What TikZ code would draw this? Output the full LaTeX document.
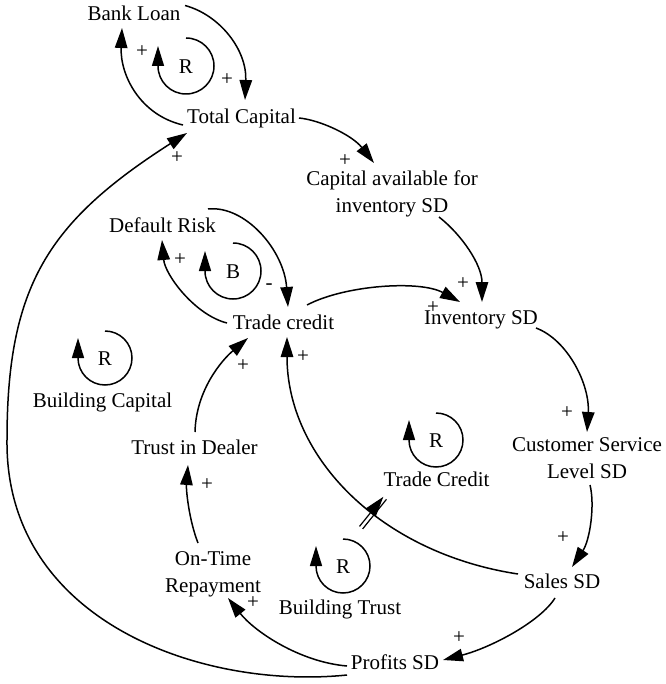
\documentclass[tikz,border=0pt]{standalone}
\usepackage{fontspec}
\setmainfont{Liberation Serif}
\usetikzlibrary{arrows.meta,decorations.markings}
\begin{document}
\begin{tikzpicture}[x=1pt,y=-1pt,
  lbl/.style={font=\fontsize{21}{27}\selectfont, inner sep=0pt, text height=14.5pt, text depth=0pt},
  lbl2/.style={font=\fontsize{21}{27}\selectfont, inner sep=0pt, align=center},
  sgn/.style={font=\fontsize{21}{24}\selectfont, inner sep=0pt},
  lp/.style={font=\fontsize{21}{27}\selectfont, inner sep=0pt, text height=14.5pt, text depth=0pt},
  arr/.style={line width=1.5pt, -{Triangle[length=20pt,width=12.5pt]}},
  loopline/.style={line width=1.5pt, -{Triangle[length=20pt,width=12pt]}},
]
\path[use as bounding box] (0,0) rectangle (665,684);

% variables
\node[lbl] (bank) at (134,13.5) {Bank Loan};
\node[lbl] (tcap) at (241.5,116) {Total Capital};
\node[lbl2] (cap) at (392,193.5) {Capital available for\\inventory SD};
\node[lbl] (dr) at (162.5,225) {Default Risk};
\node[lbl] (tc) at (283.5,322) {Trade credit};
\node[lbl] (inv) at (481,317) {Inventory SD};
\node[lbl2] (csl) at (587,458.4) {Customer Service\\Level SD};
\node[lbl] (sales) at (562,581.5) {Sales SD};
\node[lbl] (prof) at (395,662.5) {Profits SD};
\node[lbl2] (ot) at (213,574.6) {On-Time\\Repayment};
\node[lbl] (trust) at (194.5,447.5) {Trust in Dealer};

% loop names
\node[lbl] (nbc) at (102.5,400.5) {Building Capital};
\node[lbl] (ntc) at (436.5,479.5) {Trade Credit};
\node[lbl] (nbt) at (340,607.5) {Building Trust};

% loop markers
\node[lp] (l1) at (186,66) {R};
\node[lp] (l2) at (233,271) {B};
\node[lp] (l3) at (105,358) {R};
\node[lp] (l4) at (436,440) {R};
\node[lp] (l5) at (343,566) {R};
\foreach \n/\r in {l1/28,l2/28,l3/27,l4/27,l5/27}
  \draw[loopline] ([shift={(0,-\r)}]\n.center) arc[start angle=-90,end angle=180,radius=\r] -- ++(0,-20);

% connectors
\draw[arr] ([shift={(51,-8)}]bank.center) .. controls (220,15) and (247,50) .. ([shift={(3.5,-16)}]tcap.center);
\draw[arr] ([shift={(-58.5,9)}]tcap.center) .. controls (140,115) and (120,75) .. ([shift={(-12,14.5)}]bank.center);
\draw[arr] ([shift={(57.5,2)}]tcap.center) .. controls (320,120) and (352,135) .. ([shift={(-18,-30.5)}]cap.center);
\draw[arr] ([shift={(47,23.5)}]cap.center) .. controls (462,235) and (482,265) .. ([shift={(1,-15)}]inv.center);
\draw[arr] ([shift={(23.5,-17)}]tc.center) .. controls (345,285) and (420,280) .. ([shift={(-21,-15)}]inv.center);
\draw[arr] ([shift={(55,11)}]inv.center) .. controls (568,340) and (590,385) .. ([shift={(0,-26.4)}]csl.center);
\draw[arr] ([shift={(3,26.6)}]csl.center) .. controls (595,505) and (590,540) .. ([shift={(10,-14.5)}]sales.center);
\draw[arr] ([shift={(-7,16.5)}]sales.center) .. controls (540,622) and (490,648) .. ([shift={(48,-2.5)}]prof.center);
\draw[arr] ([shift={(-48,3.5)}]prof.center) .. controls (300,662) and (255,632) .. ([shift={(15,23.4)}]ot.center);
\coordinate (bend) at (7,440);
\draw[arr] ([shift={(-48,12.5)}]prof.center) .. controls (200,690) and (5,620) .. (bend) .. controls (7,286) and (48,222) .. ([shift={(-54.5,17)}]tcap.center);
\draw[arr] ([shift={(-15,-31.6)}]ot.center) .. controls (189,520) and (186,490) .. ([shift={(-6.5,17.5)}]trust.center);
\draw[arr] ([shift={(0.5,-15.5)}]trust.center) .. controls (196,390) and (222,360) .. ([shift={(-35.5,16)}]tc.center);
\draw[arr, postaction={decorate}, decoration={markings, mark=at position 0.44 with {\draw[line width=1.2pt] (-2,-19)--(-2,19) (2,-19)--(2,19);}}] ([shift={(-44,-7.5)}]sales.center) .. controls (380,553) and (287,457) .. ([shift={(3.5,15)}]tc.center);
\draw[arr] ([shift={(45.5,-16)}]dr.center) .. controls (245,205) and (284,250) .. ([shift={(4.5,-15)}]tc.center);
\draw[arr] ([shift={(-56.5,1)}]tc.center) .. controls (195,315) and (165,275) .. ([shift={(-0.5,15)}]dr.center);

% polarity signs
\node[sgn] (s1) at (227,80) {+};
\node[sgn] (s2) at (142,52) {+};
\node[sgn] (s3) at (345,161) {+};
\node[sgn] (s4) at (463,284) {+};
\node[sgn] (s5) at (433,308) {+};
\node[sgn] (s6) at (567,413) {+};
\node[sgn] (s7) at (563,538) {+};
\node[sgn] (s8) at (459,638) {+};
\node[sgn] (s9) at (253,603) {+};
\node[sgn] (s10) at (177,158) {+};
\node[sgn] (s11) at (207,485) {+};
\node[sgn] (s12) at (243,366) {+};
\node[sgn] (s13) at (303,357) {+};
\node[sgn] (s14) at (269,287) {-};
\node[sgn] (s15) at (180,260) {+};
\end{tikzpicture}
\end{document}
